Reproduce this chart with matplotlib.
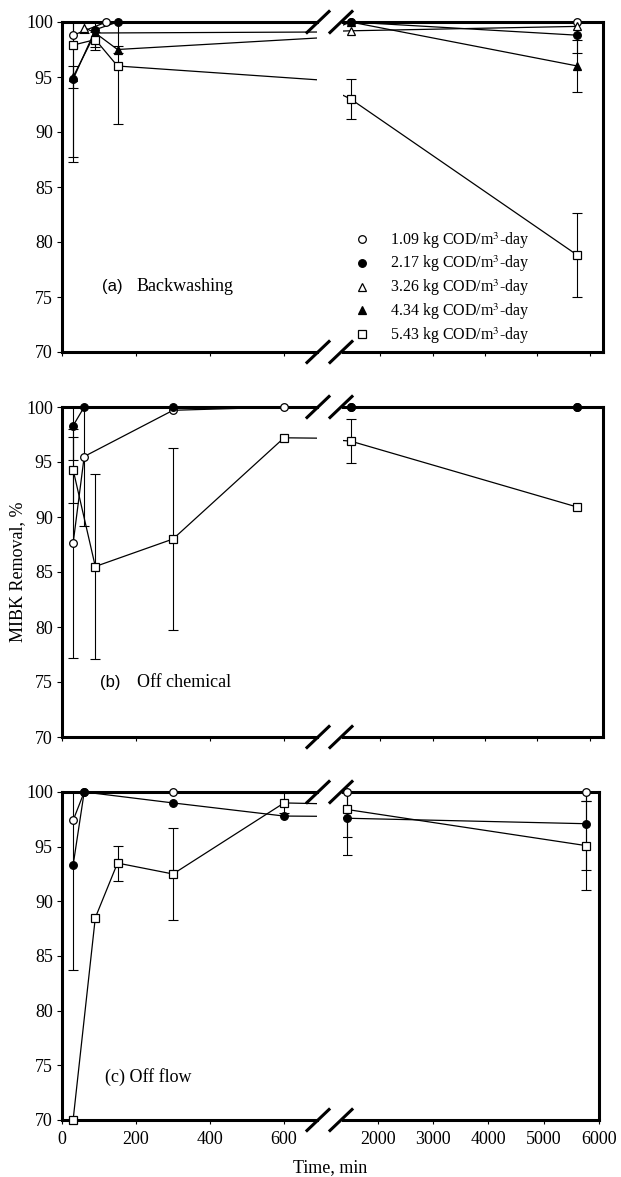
import matplotlib
matplotlib.use("Agg")
import matplotlib.pyplot as plt
from matplotlib.lines import Line2D

# ---- data (time in min, MIBK removal in %, error bar half-width; 0 = no bar)
loads = ["1.09", "2.17", "3.26", "4.34", "5.43"]

# (a) Backwashing
a_t_109 = [30, 120, 1440, 5760]
a_v_109 = [98.8, 100.0, 100.0, 100.0]
a_e_109 = [0, 0, 0, 0]
a_t_217 = [30, 90, 150, 1440, 5760]
a_v_217 = [94.8, 99.3, 100.0, 100.0, 98.8]
a_e_217 = [7.1, 0, 0, 0, 1.6]
a_t_326 = [60, 90, 1440, 5760]
a_v_326 = [99.5, 99.0, 99.2, 99.6]
a_e_326 = [0.5, 0, 0, 0]
a_t_434 = [30, 90, 150, 1440, 5760]
a_v_434 = [95.0, 99.0, 97.5, 100.0, 96.0]
a_e_434 = [1.0, 1.5, 0.3, 0, 2.4]
a_t_543 = [30, 90, 150, 1440, 5760]
a_v_543 = [97.9, 98.4, 96.0, 93.0, 78.8]
a_e_543 = [10.6, 0.7, 5.3, 1.85, 3.8]

# (b) Off chemical
b_t_109 = [30, 60, 300, 600, 1440, 5760]
b_v_109 = [87.6, 95.5, 99.7, 100.0, 100.0, 100.0]
b_e_109 = [10.4, 6.3, 0, 0, 0, 0]
b_t_217 = [30, 60, 300, 1440, 5760]
b_v_217 = [98.3, 100.0, 100.0, 100.0, 100.0]
b_e_217 = [3.1, 0, 0, 0, 0]
b_t_543 = [30, 90, 300, 600, 1440, 5760]
b_v_543 = [94.3, 85.5, 88.0, 97.2, 96.9, 90.9]
b_e_543 = [3.0, 8.4, 8.25, 0, 2.0, 0]

# (c) Off flow
c_t_109 = [30, 60, 300, 1440, 5760]
c_v_109 = [97.4, 100.0, 100.0, 100.0, 100.0]
c_e_109 = [0, 0, 0, 0, 0.8]
c_t_217 = [30, 60, 300, 600, 1440, 5760]
c_v_217 = [93.3, 100.0, 99.0, 97.8, 97.6, 97.1]
c_e_217 = [9.6, 0, 0, 0, 3.4, 4.2]
c_t_543 = [30, 90, 150, 300, 600, 1440, 5760]
c_v_543 = [70.0, 88.5, 93.5, 92.5, 99.0, 98.4, 95.1]
c_e_543 = [0, 0, 1.6, 4.2, 0.95, 2.5, 4.1]

left_xticks = [0, 200, 400, 600]
right_xticks = [2000, 3000, 4000, 5000, 6000]
yticks = [70, 75, 80, 85, 90, 95, 100]

marker_of = {"1.09": ("o", "white"), "2.17": ("o", "black"),
             "3.26": ("^", "white"), "4.34": ("^", "black"),
             "5.43": ("s", "white")}

plt.rcParams["font.family"] = ["Liberation Serif", "DejaVu Serif"]
plt.rcParams["font.size"] = 13
plt.rcParams["mathtext.fontset"] = "stix"

W, H = 621, 1177
fig = plt.figure(figsize=(W / 100, H / 100), dpi=100)


def box(x0, x1, y0, y1):
    return [x0 / W, 1 - y1 / H, (x1 - x0) / W, (y1 - y0) / H]


def draw(axl, axr, t, v, e, load):
    mk, face = marker_of[load]
    for ax in (axl, axr):
        ax.plot(t, v, color="black", lw=0.9, zorder=2)
        lo, hi = ax.get_xlim()
        keep = [i for i in range(len(t)) if lo <= t[i] <= hi]
        eb = [i for i in keep if e[i] > 0]
        if eb:
            ax.errorbar([t[i] for i in eb], [v[i] for i in eb],
                        yerr=[e[i] for i in eb], fmt="none", ecolor="black",
                        elinewidth=0.8, capsize=3.6, capthick=0.8, zorder=3)
        ax.plot([t[i] for i in keep], [v[i] for i in keep], ls="none",
                marker=mk, ms=5.5, mfc=face, mec="black", mew=0.9,
                clip_on=False, zorder=4)


rows = [
    (22, 352, 603, (1295, 6248), [
        (a_t_109, a_v_109, a_e_109, "1.09"), (a_t_217, a_v_217, a_e_217, "2.17"),
        (a_t_326, a_v_326, a_e_326, "3.26"), (a_t_434, a_v_434, a_e_434, "4.34"),
        (a_t_543, a_v_543, a_e_543, "5.43")]),
    (407, 737, 603, (1295, 6248), [
        (b_t_109, b_v_109, b_e_109, "1.09"), (b_t_217, b_v_217, b_e_217, "2.17"),
        (b_t_543, b_v_543, b_e_543, "5.43")]),
    (792, 1120, 599, (1367, 6000), [
        (c_t_109, c_v_109, c_e_109, "1.09"), (c_t_217, c_v_217, c_e_217, "2.17"),
        (c_t_543, c_v_543, c_e_543, "5.43")]),
]

axes_a = None
for k, (ytop, ybot, xr, rlim, series) in enumerate(rows):
    axl = fig.add_axes(box(62, 317, ytop, ybot))
    axr = fig.add_axes(box(343, xr, ytop, ybot))
    axl.set_xlim(0, 689)
    axr.set_xlim(*rlim)
    for ax in (axl, axr):
        ax.set_ylim(70, 100)
        ax.set_facecolor("none")
        for s in ax.spines.values():
            s.set_linewidth(2.2)
        ax.tick_params(axis="x", direction="out", length=3, width=0.8, pad=5)
    axl.spines["right"].set_visible(False)
    axr.spines["left"].set_visible(False)
    axl.set_yticks(yticks)
    axl.tick_params(axis="y", direction="out", length=3.6, width=0.8, pad=3)
    axr.set_yticks([])
    axl.set_xticks(left_xticks)
    axr.set_xticks(right_xticks)
    if k < 2:
        axl.set_xticklabels([])
        axr.set_xticklabels([])
    for t, v, e, load in series:
        draw(axl, axr, t, v, e, load)
    # break marks
    for y in (ytop, ybot):
        for cx in (318, 341):
            fig.add_artist(Line2D([(cx - 11) / W, (cx + 11) / W],
                                  [1 - (y + 10.5) / H, 1 - (y - 10.5) / H],
                                  color="black", lw=2.2,
                                  transform=fig.transFigure))
    if k == 0:
        axes_a = axr

# legend in panel (a)
handles = []
for load in loads:
    mk, face = marker_of[load]
    handles.append(Line2D([], [], ls="none", marker=mk, ms=5.5, mfc=face,
                          mec="black", mew=0.9))
labels = [f"{l} kg COD/m$^3$-day" for l in loads]
fig.legend(handles, labels, loc="upper left",
           bbox_to_anchor=(354 / W, 1 - 230 / H), bbox_transform=fig.transFigure,
           frameon=False, fontsize=11.5, handlelength=1.0, handletextpad=1.25,
           labelspacing=0.2, borderpad=0, borderaxespad=0)

# panel captions
fig.text(102 / W, 1 - 291 / H, "(a)", family="Liberation Sans", fontsize=12,
         va="baseline")
fig.text(137 / W, 1 - 291 / H, "Backwashing", fontsize=13, va="baseline")
fig.text(100 / W, 1 - 687 / H, "(b)", family="Liberation Sans", fontsize=12,
         va="baseline")
fig.text(137 / W, 1 - 687 / H, "Off chemical", fontsize=13, va="baseline")
fig.text(105 / W, 1 - 1082 / H, "(c) Off flow", fontsize=13, va="baseline")

fig.text(18 / W, 1 - 572 / H, "MIBK Removal, %", rotation=90, ha="center",
         va="center", fontsize=13)
fig.text(330 / W, 1 - 1168 / H, "Time, min", ha="center", va="center",
         fontsize=13)

fig.savefig("out.png", dpi=100)
